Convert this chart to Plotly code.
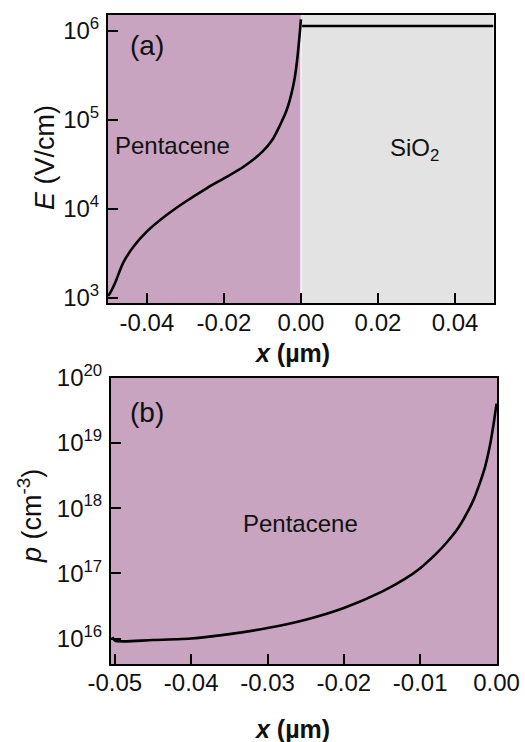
import plotly.graph_objects as go

# ---- data -------------------------------------------------------------
# (a) electric field across the pentacene / SiO2 stack
x_pent_a = [-0.0501, -0.0496, -0.0483, -0.0462, -0.0436, -0.0401, -0.0349, -0.0300,
            -0.0245, -0.0200, -0.0150, -0.0100, -0.0075, -0.0055, -0.0037, -0.0025,
            -0.0016, -0.0009, -0.0004, 0.0000]
E_pent_a = [1.05e3, 1.12e3, 1.45e3, 2.45e3, 3.7e3, 5.5e3, 8.5e3, 1.2e4,
            1.7e4, 2.2e4, 2.95e4, 4.4e4, 5.9e4, 8.6e4, 1.29e5, 1.95e5,
            3.0e5, 5.1e5, 8.5e5, 1.35e6]
x_sio2_a = [0.0003, 0.0250, 0.0500]
E_sio2_a = [1.14e6, 1.14e6, 1.14e6]

# (b) hole density in pentacene
x_b = [-0.0503, -0.0500, -0.0450, -0.0400, -0.0350, -0.0300, -0.0250, -0.0200,
       -0.0150, -0.0120, -0.0100, -0.0080, -0.0065, -0.0050, -0.0039, -0.0030,
       -0.0022, -0.0015, -0.0009, -0.0004, 0.0000]
p_b = [1.05e16, 9.3e15, 9.5e15, 1.0e16, 1.17e16, 1.45e16, 1.95e16, 2.95e16,
       5.25e16, 8.2e16, 1.2e17, 1.95e17, 3.0e17, 5.0e17, 8.3e17, 1.35e18,
       2.4e18, 4.3e18, 8.7e18, 1.9e19, 4.0e19]

xticks_a = [-0.04, -0.02, 0.00, 0.02, 0.04]
xtext_a = ["-0.04", "-0.02", "0.00", "0.02", "0.04"]
yticks_a = [1e3, 1e4, 1e5, 1e6]
ytext_a = ["10<sup>3</sup>", "10<sup>4</sup>", "10<sup>5</sup>", "10<sup>6</sup>"]
xticks_b = [-0.05, -0.04, -0.03, -0.02, -0.01, 0.00]
xtext_b = ["-0.05", "-0.04", "-0.03", "-0.02", "-0.01", "0.00"]
yticks_b = [1e16, 1e17, 1e18, 1e19, 1e20]
ytext_b = ["10<sup>16</sup>", "10<sup>17</sup>", "10<sup>18</sup>",
           "10<sup>19</sup>", "10<sup>20</sup>"]

# ---- styling ------------------------------------------------------------
W, H = 525, 742
PURPLE = "rgb(200,164,193)"
GREY = "rgb(227,227,227)"
FONT = "Liberation Sans, Arial, sans-serif"
INK = "#111111"


def px_x(p):
    return p / W


def px_y(p):
    return 1 - p / H


fig = go.Figure()

fig.add_trace(go.Scatter(x=x_pent_a, y=E_pent_a, mode="lines", xaxis="x", yaxis="y",
                         line=dict(color="black", width=2.6, shape="spline", smoothing=0.8),
                         showlegend=False))
fig.add_trace(go.Scatter(x=x_sio2_a, y=E_sio2_a, mode="lines", xaxis="x", yaxis="y",
                         line=dict(color="black", width=2.6), showlegend=False))
fig.add_trace(go.Scatter(x=x_b, y=p_b, mode="lines", xaxis="x2", yaxis="y2",
                         line=dict(color="black", width=2.6, shape="spline", smoothing=0.8),
                         showlegend=False))

axis_common = dict(showline=True, linecolor="black", linewidth=2, mirror=True,
                   ticks="inside", ticklen=10, tickwidth=2, tickcolor="black",
                   showgrid=False, zeroline=False, automargin=False,
                   tickfont=dict(family=FONT, size=24, color=INK))

fig.update_layout(
    width=W, height=H,
    margin=dict(l=0, r=0, t=0, b=0),
    paper_bgcolor="white",
    plot_bgcolor=GREY,
    xaxis=dict(domain=[px_x(108), px_x(493.5)], anchor="y",
               range=[-0.0501, 0.0500], tickvals=xticks_a, ticktext=xtext_a,
               ticklabelstandoff=-3, **axis_common),
    yaxis=dict(domain=[px_y(303), px_y(15)], anchor="x", type="log",
               range=[2.94, 6.18], tickvals=yticks_a, ticktext=ytext_a,
               ticklabelstandoff=2, **axis_common),
    xaxis2=dict(domain=[px_x(111), px_x(497.3)], anchor="y2",
                range=[-0.0505, 0.0001], tickvals=xticks_b, ticktext=xtext_b,
                ticklabelstandoff=-4, **axis_common),
    yaxis2=dict(domain=[px_y(664), px_y(377.7)], anchor="x2", type="log",
                range=[15.61, 20.0], tickvals=yticks_b, ticktext=ytext_b,
                ticklabelstandoff=2, **axis_common),
)

# material regions
fig.add_shape(type="rect", xref="x", yref="y domain", x0=-0.0501, x1=0.0, y0=0, y1=1,
              fillcolor=PURPLE, line=dict(width=0), layer="below")
fig.add_shape(type="line", xref="x", yref="y domain", x0=0.0, x1=0.0, y0=0, y1=0.95,
              line=dict(color="rgba(255,255,255,0.8)", width=1.5), layer="below")
fig.add_shape(type="rect", xref="x2 domain", yref="y2 domain", x0=0, x1=1, y0=0, y1=1,
              fillcolor=PURPLE, line=dict(width=0), layer="below")


def label(text, x, y, size, **kw):
    fig.add_annotation(text=text, xref="paper", yref="paper", x=px_x(x), y=px_y(y),
                       showarrow=False, xanchor="center", yanchor="middle",
                       font=dict(family=FONT, size=size, color=INK), **kw)


label("(a)", 147, 46, 28)
label("Pentacene", 172, 145, 24)
label("SiO<sub>2</sub>", 414, 150, 24)
label("<b><i>x</i> (µm)</b>", 292, 353, 25)
label("<i>E</i> (V/cm)", 45, 158, 27, textangle=-90)

label("(b)", 147, 412, 28)
label("Pentacene", 300, 523, 24)
label("<b><i>x</i> (µm)</b>", 292, 729, 25)
label("<i>p</i> (cm<sup>-3</sup>)", 30, 516, 27, textangle=-90)

fig.write_html("out.html")
